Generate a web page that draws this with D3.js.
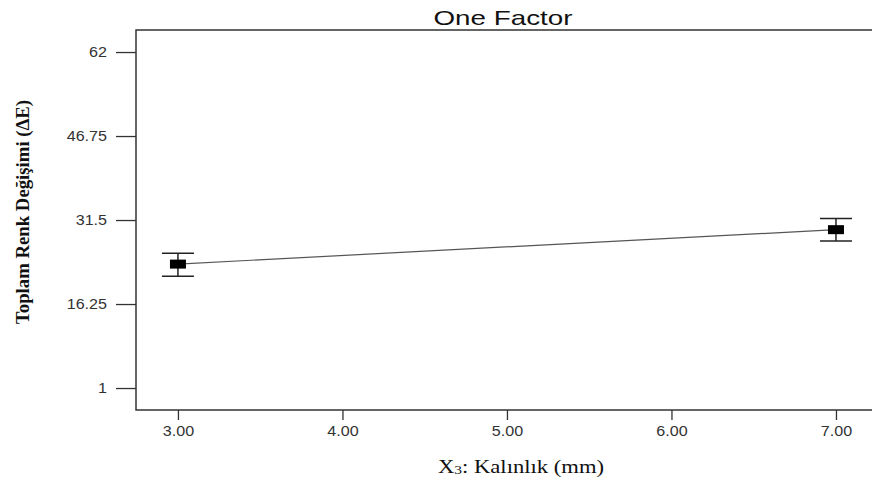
<!DOCTYPE html>
<html>
<head>
<meta charset="utf-8">
<script src="https://cdn.jsdelivr.net/npm/d3@7"></script>
<style>
  body { margin: 0; background: #fff; }
  svg { display: block; }
</style>
</head>
<body>
<svg id="chart" width="872" height="481"></svg>
<script>
// data
var thickness = [3.00, 7.00];
var meanDE = [23.5, 29.75];
var lowDE = [21.3, 27.7];
var highDE = [25.45, 31.8];
var yTicks = [1, 16.25, 31.5, 46.75, 62];
var xTicks = [3, 4, 5, 6, 7];

function draw() {
  var svg = d3.select("#chart");
  var left = 136, top = 30, right = 872, bottom = 410;

  var x = d3.scaleLinear().domain([2.745, 7.219]).range([left, right]);
  var y = d3.scaleLinear().domain([-2.99, 66]).range([bottom, top]);

  // frame
  svg.append("rect")
    .attr("x", left).attr("y", top)
    .attr("width", right - left + 2).attr("height", bottom - top)
    .attr("fill", "none").attr("stroke", "#333").attr("stroke-width", 1.5);

  var yAxis = svg.append("g")
    .attr("transform", "translate(" + left + ",0)")
    .call(d3.axisLeft(y).tickValues(yTicks).tickSize(20).tickPadding(9)
      .tickFormat(function(d) { return String(d); }));
  yAxis.select(".domain").remove();

  var xAxis = svg.append("g")
    .attr("transform", "translate(0," + bottom + ")")
    .call(d3.axisBottom(x).tickValues(xTicks).tickSize(10).tickPadding(6)
      .tickFormat(d3.format(".2f")));
  xAxis.select(".domain").remove();

  svg.selectAll(".tick line").attr("stroke", "#333").attr("stroke-width", 1.3);
  svg.selectAll(".tick text")
    .attr("fill", "#333")
    .style("font-family", "Arial, 'Liberation Sans', sans-serif")
    .style("font-size", "14px")
    .each(function() {
      // labels in the picture are a bit wider than normal
      var w = this.getComputedTextLength();
      d3.select(this).attr("textLength", w * 1.15).attr("lengthAdjust", "spacingAndGlyphs");
    });

  var pts = thickness.map(function(t, i) {
    return { t: t, m: meanDE[i], lo: lowDE[i], hi: highDE[i] };
  });

  // connecting line
  svg.append("path")
    .datum(pts)
    .attr("fill", "none").attr("stroke", "#555").attr("stroke-width", 1.2)
    .attr("d", d3.line().x(function(d) { return x(d.t); }).y(function(d) { return y(d.m); }));

  var g = svg.append("g").selectAll("g").data(pts).enter().append("g");

  g.append("line")
    .attr("x1", function(d) { return x(d.t); }).attr("x2", function(d) { return x(d.t); })
    .attr("y1", function(d) { return y(d.lo); }).attr("y2", function(d) { return y(d.hi); })
    .attr("stroke", "#222").attr("stroke-width", 1.5);
  g.append("line")
    .attr("x1", function(d) { return x(d.t) - 16; }).attr("x2", function(d) { return x(d.t) + 16; })
    .attr("y1", function(d) { return y(d.hi); }).attr("y2", function(d) { return y(d.hi); })
    .attr("stroke", "#222").attr("stroke-width", 1.5);
  g.append("line")
    .attr("x1", function(d) { return x(d.t) - 16; }).attr("x2", function(d) { return x(d.t) + 16; })
    .attr("y1", function(d) { return y(d.lo); }).attr("y2", function(d) { return y(d.lo); })
    .attr("stroke", "#222").attr("stroke-width", 1.5);
  g.append("rect")
    .attr("x", function(d) { return x(d.t) - 8; })
    .attr("y", function(d) { return y(d.m) - 4.5; })
    .attr("width", 16).attr("height", 9)
    .attr("fill", "#000");

  // title and axis labels
  svg.append("text")
    .attr("x", 503).attr("y", 25)
    .attr("text-anchor", "middle")
    .attr("textLength", 139).attr("lengthAdjust", "spacingAndGlyphs")
    .style("font-family", "Arial, 'Liberation Sans', sans-serif")
    .style("font-size", "21px")
    .attr("fill", "#111")
    .text("One Factor");

  svg.append("text")
    .attr("transform", "translate(29,212) rotate(-90)")
    .attr("text-anchor", "middle")
    .attr("textLength", 224).attr("lengthAdjust", "spacingAndGlyphs")
    .style("font-family", "'Liberation Serif', 'Times New Roman', serif")
    .style("font-weight", "bold")
    .style("font-size", "18px")
    .attr("fill", "#111")
    .text("Toplam Renk Değişimi (ΔE)");

  var xl = svg.append("text")
    .attr("x", 521).attr("y", 473)
    .attr("text-anchor", "middle")
    .attr("textLength", 166).attr("lengthAdjust", "spacingAndGlyphs")
    .style("font-family", "'Liberation Serif', 'Times New Roman', serif")
    .style("font-size", "19px")
    .attr("fill", "#111");
  xl.append("tspan").text("X");
  xl.append("tspan").style("font-size", "13px").attr("dy", 1).text("3");
  xl.append("tspan").attr("dy", -1).text(": Kalınlık (mm)");
}

draw();
</script>
</body>
</html>
